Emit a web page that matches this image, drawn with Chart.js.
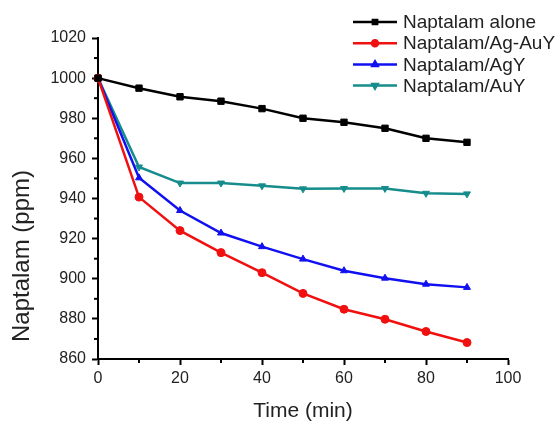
<!DOCTYPE html>
<html>
<head>
<meta charset="utf-8">
<script src="https://cdn.jsdelivr.net/npm/chart.js@4/dist/chart.umd.min.js"></script>
<style>
  body { margin: 0; background: #fff; }
  #wrap { width: 555px; height: 424px; }
</style>
</head>
<body>
<div id="wrap"><canvas id="naptalamChart" width="555" height="424"></canvas></div>
<script>
// sampling times (min)
const times = [0, 10, 20, 30, 40, 50, 60, 70, 80, 90];

// naptalam concentration (ppm)
const alone   = [1000, 995, 990.7, 988.5, 984.8, 980, 978, 975, 970, 968];
const agAuY   = [1000, 940.7, 924, 913, 903, 892.7, 884.8, 879.8, 873.7, 868.2];
const agY     = [1000, 950.3, 934, 922.8, 916, 909.8, 904, 900.3, 897.3, 895.7];
const auY     = [1000, 955.7, 947.7, 947.7, 946.3, 944.8, 945, 945, 942.6, 942.3];

const seriesNames = ["Naptalam alone", "Naptalam/Ag-AuY", "Naptalam/AgY", "Naptalam/AuY"];
const xTicks = [0, 20, 40, 60, 80, 100];
const yTicks = [860, 880, 900, 920, 940, 960, 980, 1000, 1020];

const FONT = "'Liberation Sans', Arial, sans-serif";
const TEXT = "#222";

function toPoints(vals) {
  return times.map((t, i) => ({ x: t, y: vals[i] }));
}

function makeSet(label, vals, color, style, rot) {
  return {
    label: label,
    data: toPoints(vals),
    borderColor: color,
    backgroundColor: color,
    borderWidth: 2.5,
    pointStyle: style,
    pointRotation: rot || 0,
    pointRadius: style === "rect" ? 4.5 : 4,
    pointBorderWidth: 1,
    tension: 0,
    clip: false
  };
}

const datasets = [
  makeSet(seriesNames[0], alone, "#000000", "rect"),
  makeSet(seriesNames[1], agAuY, "#f01010", "circle"),
  makeSet(seriesNames[2], agY, "#1010f0", "triangle"),
  makeSet(seriesNames[3], auY, "#168c8c", "triangle", 180)
];

// minor ticks halfway between the labelled ones, plus axis titles and legend
const extras = {
  id: "extras",
  afterDraw(chart) {
    const ctx = chart.ctx;
    const xs = chart.scales.x, ys = chart.scales.y;
    const area = chart.chartArea;
    ctx.save();
    ctx.strokeStyle = "#000";
    ctx.lineWidth = 2;
    for (let v = 10; v < 100; v += 20) {
      const px = xs.getPixelForValue(v);
      ctx.beginPath();
      ctx.moveTo(px, area.bottom);
      ctx.lineTo(px, area.bottom + 4);
      ctx.stroke();
    }
    for (let v = 870; v < 1020; v += 20) {
      const py = ys.getPixelForValue(v);
      ctx.beginPath();
      ctx.moveTo(area.left, py);
      ctx.lineTo(area.left - 4, py);
      ctx.stroke();
    }

    // axis titles
    ctx.fillStyle = TEXT;
    ctx.font = "21px " + FONT;
    ctx.textAlign = "center";
    ctx.textBaseline = "middle";
    ctx.fillText("Time (min)", (area.left + area.right) / 2, 411);
    ctx.save();
    ctx.translate(22, 256);
    ctx.rotate(-Math.PI / 2);
    ctx.font = "24px " + FONT;
    ctx.fillText("Naptalam (ppm)", 0, 0);
    ctx.restore();

    // legend
    ctx.font = "19px " + FONT;
    ctx.textAlign = "left";
    chart.data.datasets.forEach((ds, i) => {
      const y = 22 + i * 21.2;
      ctx.strokeStyle = ds.borderColor;
      ctx.lineWidth = 2.5;
      ctx.beginPath();
      ctx.moveTo(353, y);
      ctx.lineTo(397, y);
      ctx.stroke();
      ctx.fillStyle = ds.borderColor;
      Chart.helpers.drawPoint(ctx, {
        pointStyle: ds.pointStyle,
        rotation: ds.pointRotation,
        radius: 3,
        borderWidth: 1
      }, 375, y);
      ctx.fillStyle = TEXT;
      ctx.fillText(ds.label, 403, y + 1);
    });
    ctx.restore();
  }
};

new Chart(document.getElementById("naptalamChart"), {
  type: "line",
  data: { datasets: datasets },
  options: {
    responsive: false,
    animation: false,
    layout: { padding: { left: 0, top: 38, right: 47, bottom: 0 } },
    plugins: { legend: { display: false }, tooltip: { enabled: false } },
    scales: {
      x: {
        type: "linear",
        min: 0,
        max: 100,
        afterBuildTicks: (s) => { s.ticks = xTicks.map(v => ({ value: v })); },
        afterFit: (s) => { s.height = 424 - 359; },
        border: { color: "#000", width: 2 },
        grid: { drawOnChartArea: false, tickLength: 6, tickWidth: 2, tickColor: "#000" },
        ticks: { font: { family: FONT, size: 16 }, color: TEXT, padding: 4, maxRotation: 0,
                 callback: (v) => String(v) }
      },
      y: {
        type: "linear",
        min: 860,
        max: 1020,
        afterBuildTicks: (s) => { s.ticks = yTicks.map(v => ({ value: v })); },
        afterFit: (s) => { s.width = 98; },
        border: { color: "#000", width: 2 },
        grid: { drawOnChartArea: false, tickLength: 6, tickWidth: 2, tickColor: "#000" },
        ticks: { font: { family: FONT, size: 16 }, color: TEXT, padding: 6,
                 callback: (v) => String(v) }
      }
    }
  },
  plugins: [extras]
});
</script>
</body>
</html>
